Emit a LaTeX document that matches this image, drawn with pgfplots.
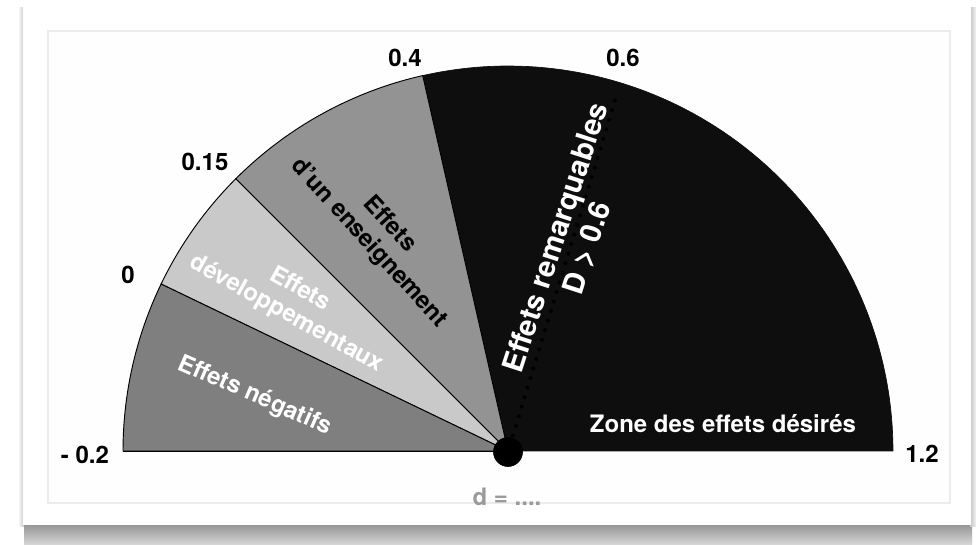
\documentclass[border=0pt]{standalone}
\usepackage{pgfplots}
\pgfplotsset{compat=1.18}
\usepackage{fontspec}
\setmainfont{TeX Gyre Heros}
\definecolor{cneg}{HTML}{7F7F7F}
\definecolor{cdev}{HTML}{C9C9C9}
\definecolor{cens}{HTML}{939393}
\definecolor{cdes}{HTML}{0E0E0E}
\definecolor{cd}{HTML}{9A9A9A}
\tikzset{lbl/.style={font=\bfseries\fontsize{18}{21}\selectfont, inner sep=0pt}}
\begin{document}
\begin{tikzpicture}
\begin{axis}[
  scale only axis, width=732pt, height=408.75pt,
  xmin=0, xmax=976, ymin=0, ymax=545,
  hide axis, clip=false,
]
% background and card
\fill[white] (axis cs:0,0) rectangle (axis cs:976,545);
\shade[top color=gray!85, bottom color=gray!30] (axis cs:24,0) rectangle (axis cs:972,21);
\shade[left color=white, right color=gray!45] (axis cs:18,18) rectangle (axis cs:24,537);
\shade[left color=gray!45, right color=white!90!gray] (axis cs:970,18) rectangle (axis cs:976,537);
\fill[white] (axis cs:23,20) rectangle (axis cs:971,538);
\draw[gray!15, line width=1pt, fill=white!99!gray] (axis cs:48,42) rectangle (axis cs:950,514);

% sectors (angles in degrees: -0.2 -> 180, 0 -> 154.3, 0.15 -> 135, 0.4 -> 102.8, 1.2 -> 0)
\addplot[fill=cdes, draw=cdes, line width=0.5pt, domain=0:102.8, samples=80]
  ({508+385*cos(x)}, {94+385*sin(x)}) -- (axis cs:508,94) -- cycle;
\addplot[fill=cens, draw=black, line width=0.7pt, domain=102.8:135, samples=40]
  ({508+385*cos(x)}, {94+385*sin(x)}) -- (axis cs:508,94) -- cycle;
\addplot[fill=cdev, draw=black, line width=0.7pt, domain=135:154.3, samples=30]
  ({508+385*cos(x)}, {94+385*sin(x)}) -- (axis cs:508,94) -- cycle;
\addplot[fill=cneg, draw=black, line width=0.7pt, domain=154.3:180, samples=40]
  ({508+385*cos(x)}, {94+385*sin(x)}) -- (axis cs:508,94) -- cycle;
\addplot[black, line width=0.7pt] coordinates {(123,94) (508,94)};

% dotted 0.6 line
\addplot[black, line width=3pt, line cap=round, dash pattern=on 0pt off 7.5pt] coordinates {(510,100) (617,451)};
% centre dot
\addplot[only marks, mark=*, mark size=10.9pt, black] coordinates {(508,93)};

% scale labels
\node[lbl] at (axis cs:85,90) {- 0.2};
\node[lbl] at (axis cs:922,91) {1.2};
\node[lbl] at (axis cs:128,270) {0};
\node[lbl] at (axis cs:205,383) {0.15};
\node[lbl] at (axis cs:405,487) {0.4};
\node[lbl] at (axis cs:623,487) {0.6};
\node[lbl, text=cd] at (axis cs:507,48) {d = ....};

% zone labels
\node[lbl, text=white] at (axis cs:723,121) {Zone des effets désirés};
\node[lbl, text=white, rotate=-23.5] at (axis cs:255,149) {Effets négatifs};
\node[lbl, text=white, rotate=-29, align=center] at (axis cs:293,243) {Effets\\développementaux};
\node[lbl, text=black, rotate=-47.5, align=center] at (axis cs:379,311) {Effets\\d’un enseignement};
\node[lbl, text=white, rotate=72, align=center, font=\bfseries\fontsize{22}{25}\selectfont] at (axis cs:572,302) {Effets remarquables\\D > 0.6};
\end{axis}
\end{tikzpicture}
\end{document}
